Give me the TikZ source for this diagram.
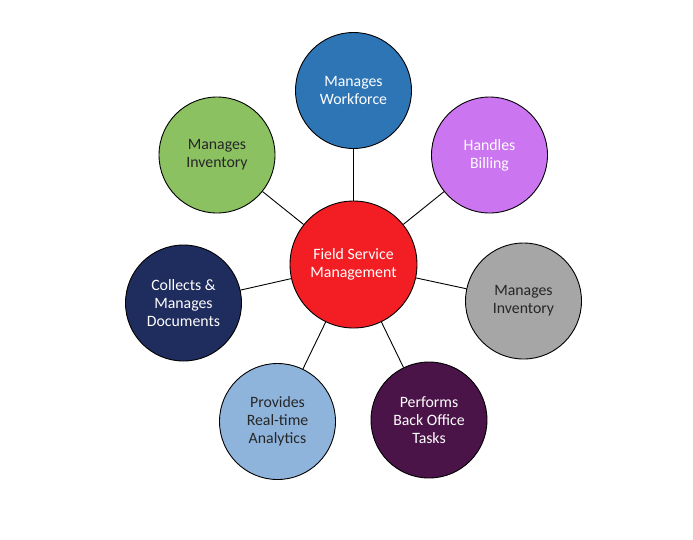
\documentclass[tikz,border=0pt]{standalone}
\usepackage{fontspec}
\setmainfont{Carlito}
\definecolor{cWork}{HTML}{2E75B6}
\definecolor{cBill}{HTML}{CC75F0}
\definecolor{cGreen}{HTML}{8CC162}
\definecolor{cRed}{HTML}{F21E24}
\definecolor{cGrey}{HTML}{A6A6A6}
\definecolor{cNavy}{HTML}{1F2C5E}
\definecolor{cPlum}{HTML}{4A1449}
\definecolor{cSky}{HTML}{8FB4DC}
\definecolor{cText}{HTML}{262626}
\begin{document}
\begin{tikzpicture}[x=1pt,y=-1pt,
  bubble/.style={circle,draw=black,line width=0.9pt,minimum size=116pt,inner sep=0pt,align=center,
    font=\fontsize{15.8}{18}\selectfont},
  hub/.style={bubble,minimum size=127pt},
  link/.style={draw=black,line width=0.9pt}]
\useasboundingbox (0,0) rectangle (693,539);
\node[hub,fill=cRed,text=white] (c) at (353.5,264.5) {Field Service\\Management};
\node[bubble,fill=cWork,text=white] (w) at (353.5,90.5) {Manages\\Workforce};
\node[bubble,fill=cBill,text=white] (b) at (489.5,155) {Handles\\Billing};
\node[bubble,fill=cGreen,text=cText] (g) at (217,155) {Manages\\Inventory};
\node[bubble,fill=cGrey,text=cText] (r) at (523.5,301) {Manages\\Inventory};
\node[bubble,fill=cNavy,text=white] (d) at (183.5,303) {Collects \&\\Manages\\Documents};
\node[bubble,fill=cSky,text=cText] (a) at (277.5,421.5) {Provides\\Real-time\\Analytics};
\node[bubble,fill=cPlum,text=white] (p) at (429,420) {Performs\\Back Office\\Tasks};
\foreach \n in {w,b,g,r,d,a,p} \draw[link] (c) -- (\n);
\end{tikzpicture}
\end{document}
